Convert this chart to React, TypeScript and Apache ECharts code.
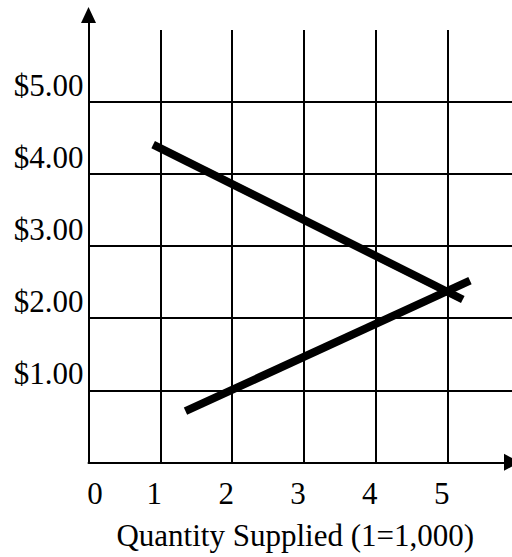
import React, { useEffect, useRef } from "react";
import * as echarts from "echarts";

const quantityTicks = [0, 1, 2, 3, 4, 5];
const priceLabels = ["$1.00", "$2.00", "$3.00", "$4.00", "$5.00"];
const demandLine = [
  [0.9, 4.41],
  [5.21, 2.26],
];
const supplyLine = [
  [1.35, 0.71],
  [5.31, 2.52],
];
const xAxisTitle = "Quantity Supplied (1=1,000)";

const FONT = "'Liberation Serif', 'Times New Roman', serif";

export default function App() {
  const ref = useRef<HTMLDivElement>(null);

  useEffect(() => {
    const chart = echarts.init(ref.current!, null, { renderer: "svg" });
    const black = "#000";
    chart.setOption({
      animation: false,
      backgroundColor: "#fff",
      grid: [
        { left: 88.5, right: -1.5, top: 30, bottom: 94.7 },
        { left: 88.5, right: -1.5, top: 15, bottom: 94.7 },
      ],
      xAxis: [
        {
          type: "value",
          gridIndex: 0,
          min: 0,
          max: 5.895,
          interval: 1,
          axisLine: {
            show: true,
            onZero: false,
            symbol: ["none", "triangle"],
            symbolSize: [17, 16],
            lineStyle: { color: black, width: 2 },
          },
          axisTick: { show: false },
          splitLine: {
            show: true,
            showMinLine: false,
            showMaxLine: false,
            lineStyle: { color: black, width: 2 },
          },
          axisLabel: {
            show: true,
            showMaxLabel: false,
            margin: 16,
            color: black,
            fontFamily: FONT,
            fontSize: 31,
            padding: [0, 12, 0, 0],
            formatter: (v: number) => {
              if (!quantityTicks.includes(v)) return "";
              return v === 0 ? "{z|0}" : String(v);
            },
            rich: {
              z: {
                padding: [0, 0, 0, 25],
                fontFamily: FONT,
                fontSize: 31,
                color: black,
              },
            },
          },
          name: xAxisTitle,
          nameLocation: "middle",
          nameGap: 58,
          nameTextStyle: {
            color: black,
            fontFamily: FONT,
            fontSize: 31,
            padding: [0, 10, 0, 0],
          },
        },
        { type: "value", gridIndex: 1, min: 0, max: 1, show: false },
      ],
      yAxis: [
        {
          type: "value",
          gridIndex: 0,
          min: 0,
          max: 6,
          interval: 1,
          axisLine: { show: false },
          axisTick: { show: false },
          splitLine: {
            show: true,
            showMinLine: false,
            showMaxLine: false,
            lineStyle: { color: black, width: 2 },
          },
          axisLabel: {
            show: true,
            showMinLabel: false,
            showMaxLabel: false,
            margin: 5,
            color: black,
            fontFamily: FONT,
            fontSize: 31,
            lineHeight: 33,
            verticalAlign: "bottom",
            formatter: (v: number) => priceLabels[v - 1] ?? "",
          },
        },
        {
          type: "value",
          gridIndex: 1,
          min: 0,
          max: 1,
          axisLine: {
            show: true,
            onZero: false,
            symbol: ["none", "triangle"],
            symbolSize: [15, 16],
            lineStyle: { color: black, width: 2 },
          },
          axisTick: { show: false },
          axisLabel: { show: false },
          splitLine: { show: false },
        },
      ],
      series: [
        {
          name: "Demand",
          type: "line",
          xAxisIndex: 0,
          yAxisIndex: 0,
          data: demandLine,
          symbol: "none",
          lineStyle: { color: black, width: 8, cap: "butt" },
          z: 5,
        },
        {
          name: "Supply",
          type: "line",
          xAxisIndex: 0,
          yAxisIndex: 0,
          data: supplyLine,
          symbol: "none",
          lineStyle: { color: black, width: 8, cap: "butt" },
          z: 5,
        },
      ],
    });
    return () => chart.dispose();
  }, []);

  return (
    <div
      ref={ref}
      style={{ position: "absolute", left: 0, top: 0, width: 512, height: 557 }}
    />
  );
}
